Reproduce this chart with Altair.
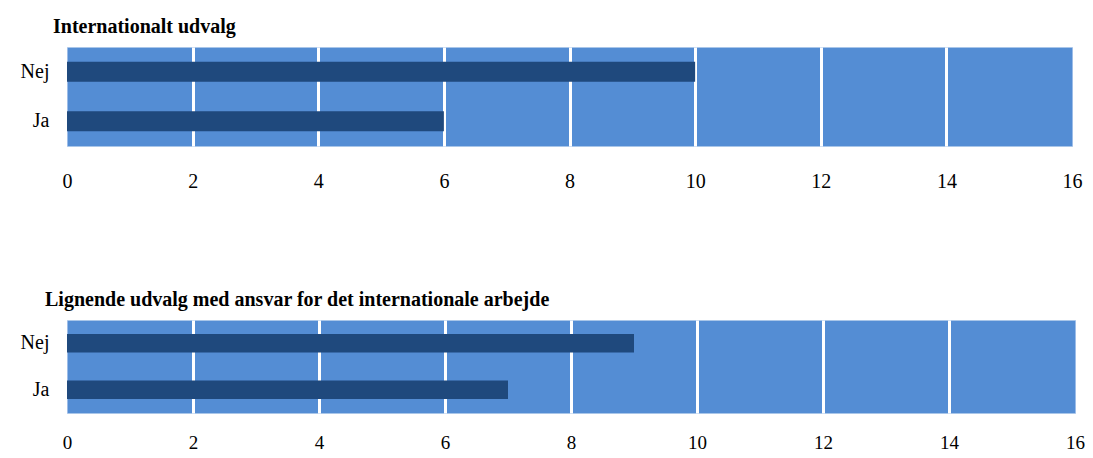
import altair as alt
import pandas as pd

categories = ["Nej", "Ja"]
values_internationalt = [10, 6]
values_lignende = [9, 7]
titles = [
    "Internationalt udvalg",
    "Lignende udvalg med ansvar for det internationale arbejde",
]
tick_values = [0, 2, 4, 6, 8, 10, 12, 14, 16]

BG = "#548DD4"
BAR = "#1F497D"
FONT = "Liberation Serif"

grid_color = {
    "condition": {"test": "datum.value === 0 || datum.value === 16", "value": "#9DBDE8"},
    "value": "#FFFFFF",
}
grid_width = {
    "condition": {"test": "datum.value === 0 || datum.value === 16", "value": 1},
    "value": 3,
}


def panel(values, title, width, height, dx, x_pad, x_size):
    df = pd.DataFrame({"svar": categories, "antal": values})
    return (
        alt.Chart(
            df,
            title=alt.TitleParams(
                title, anchor="start", frame="group", dx=dx, offset=10,
                font=FONT, fontSize=20, fontWeight="bold", color="#000000",
            ),
        )
        .mark_bar(color=BAR)
        .encode(
            x=alt.X(
                "antal:Q",
                scale=alt.Scale(domain=[0, 16], nice=False, zero=True),
                axis=alt.Axis(
                    values=tick_values, title=None, domain=False, ticks=False,
                    labelPadding=x_pad, labelFlush=False, labelFont=FONT,
                    labelFontSize=x_size, labelColor="#000000", grid=True,
                    gridColor=grid_color, gridWidth=grid_width, gridOpacity=1,
                ),
            ),
            y=alt.Y(
                "svar:N",
                sort=categories,
                scale=alt.Scale(paddingInner=0.6, paddingOuter=0.3),
                axis=alt.Axis(
                    title=None, domain=False, ticks=False, grid=False,
                    labelPadding=18, minExtent=55, labelFont=FONT,
                    labelFontSize=20, labelColor="#000000",
                ),
            ),
        )
        .properties(width=width, height=height)
    )


top = panel(values_internationalt, titles[0], 1005, 99, -14, 25, 20)
bottom = panel(values_lignende, titles[1], 1008, 93, -22, 20, 19)

chart = (
    alt.vconcat(top, bottom, spacing=99)
    .properties(
        padding={"left": 4, "top": 9, "right": 0, "bottom": 0},
        background="#FFFFFF",
    )
    .configure_view(fill=BG, strokeOpacity=0)
)

chart.save("out.html", embed_options={"renderer": "svg", "actions": False})
